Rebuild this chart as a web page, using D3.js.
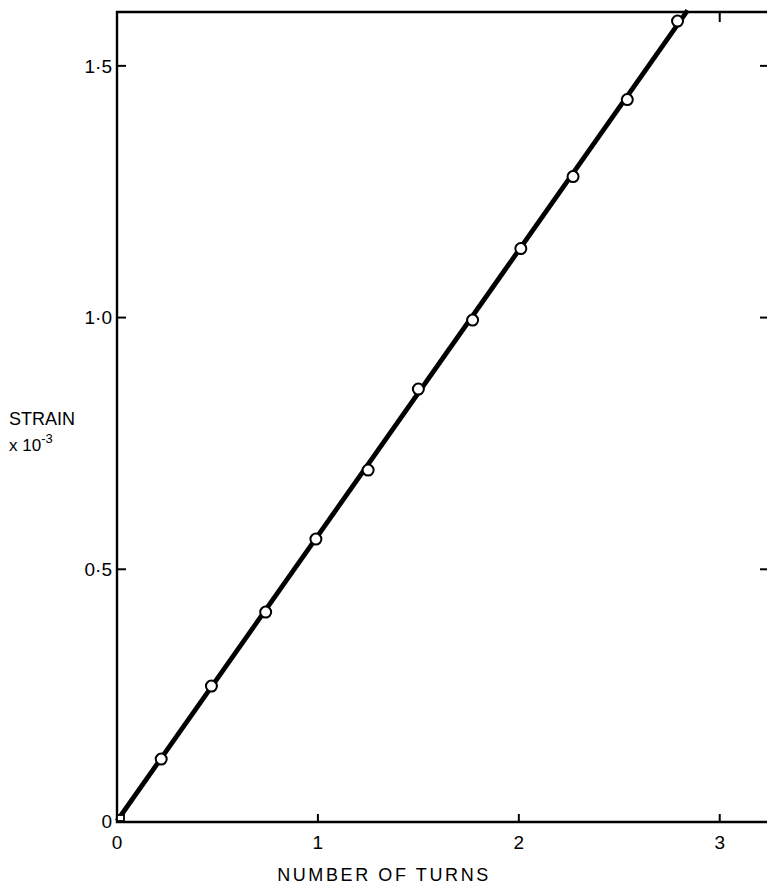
<!DOCTYPE html>
<html>
<head>
<meta charset="utf-8">
<script src="https://cdn.jsdelivr.net/npm/d3@7"></script>
<style>
  body { margin: 0; background: #fff; overflow: hidden; }
  svg { display: block; }
  text { font-family: "Liberation Sans", Arial, sans-serif; fill: #000; }
</style>
</head>
<body>
<div id="chart"></div>
<script>
// strain gauge calibration: strain vs number of turns

var turns  = [0.22, 0.47, 0.74, 0.99, 1.25, 1.50, 1.77, 2.01, 2.27, 2.54, 2.79];
var strain = [0.123, 0.268, 0.415, 0.560, 0.697, 0.858, 0.995, 1.137, 1.280, 1.433, 1.589];
var fitLine = [[0, 0], [2.84, 1.61]];
var xTicks = [0, 1, 2, 3];
var yTicks = [0, 0.5, 1.0, 1.5];
var yTickLabels = ["0", "0·5", "1·0", "1·5"];

var width = 767, height = 886;
var margin = {top: 12, right: -13, bottom: 64, left: 117};

var svg = d3.select("#chart").append("svg")
    .attr("width", width)
    .attr("height", height);

var x = d3.scaleLinear().domain([0, 3.3]).range([margin.left, width - margin.right]);
var y = d3.scaleLinear().domain([0, 1.607]).range([height - margin.bottom - 1, margin.top]);

var x0 = x.range()[0], x1 = x.range()[1],
    y0 = y.range()[0] + 1, y1 = y.range()[1];

// frame - the right side runs off the page, so only three sides
svg.append("path")
    .attr("d", "M" + x1 + "," + y0 + "H" + x0 + "V" + y1 + "H" + x1)
    .attr("fill", "none")
    .attr("stroke", "#000")
    .attr("stroke-width", 2.4);

// inward ticks
var tk = svg.append("g").attr("stroke", "#000").attr("stroke-width", 2);
tk.selectAll(".bt").data(xTicks.slice(1)).enter().append("line")
    .attr("x1", function(d) { return x(d); }).attr("x2", function(d) { return x(d); })
    .attr("y1", y0).attr("y2", y0 - 8);
tk.selectAll(".tt").data([3]).enter().append("line")
    .attr("x1", function(d) { return x(d); }).attr("x2", function(d) { return x(d); })
    .attr("y1", y1).attr("y2", y1 + 10);
tk.selectAll(".lt").data(yTicks.slice(1)).enter().append("line")
    .attr("x1", x0).attr("x2", x0 + 9)
    .attr("y1", function(d) { return y(d); }).attr("y2", function(d) { return y(d); });
tk.selectAll(".rt").data(yTicks.slice(1)).enter().append("line")
    .attr("x1", x1).attr("x2", x1 - 20)
    .attr("y1", function(d) { return y(d); }).attr("y2", function(d) { return y(d); });

// tick labels
svg.append("g").selectAll("text").data(xTicks).enter().append("text")
    .attr("x", function(d) { return x(d); })
    .attr("y", y0 + 27)
    .attr("text-anchor", "middle")
    .attr("font-size", 19)
    .text(function(d) { return d; });

svg.append("g").selectAll("text").data(yTicks).enter().append("text")
    .attr("x", x0 - 5)
    .attr("y", function(d) { return y(d); })
    .attr("dy", "0.35em")
    .attr("text-anchor", "end")
    .attr("font-size", 19)
    .text(function(d, i) { return yTickLabels[i]; });

// axis titles
svg.append("text")
    .attr("x", 384)
    .attr("y", 881)
    .attr("text-anchor", "middle")
    .attr("font-size", 18)
    .attr("letter-spacing", 2.6)
    .text("NUMBER OF TURNS");

svg.append("text")
    .attr("x", 9).attr("y", 425)
    .attr("font-size", 18)
    .text("STRAIN");

var unit = svg.append("text")
    .attr("x", 9).attr("y", 451)
    .attr("font-size", 17);
unit.append("tspan").text("x 10");
unit.append("tspan").attr("dy", -8).attr("font-size", 13).text("-3");

// fitted line
svg.append("path")
    .datum(fitLine)
    .attr("d", d3.line().x(function(d) { return x(d[0]); }).y(function(d) { return y(d[1]); }))
    .attr("fill", "none")
    .attr("stroke", "#000")
    .attr("stroke-width", 4.8);

// origin marker
svg.append("rect")
    .attr("x", x(0)).attr("y", y(0) - 6)
    .attr("width", 7).attr("height", 6)
    .attr("fill", "#fff").attr("stroke", "#000").attr("stroke-width", 1.8);

// points
svg.append("g").selectAll("circle").data(turns).enter().append("circle")
    .attr("cx", function(d) { return x(d); })
    .attr("cy", function(d, i) { return y(strain[i]); })
    .attr("r", 5.5)
    .attr("fill", "#fff")
    .attr("stroke", "#000")
    .attr("stroke-width", 2);
</script>
</body>
</html>
